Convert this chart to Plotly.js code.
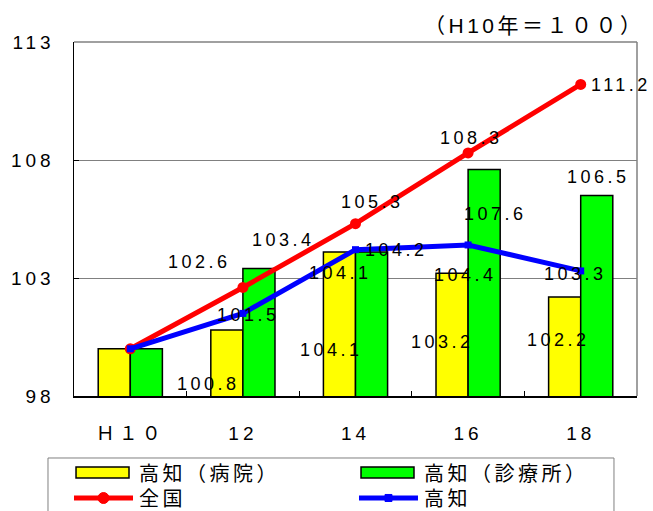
<!DOCTYPE html>
<html>
<head>
<meta charset="utf-8">
<script src="https://cdn.plot.ly/plotly-3.0.1.min.js"></script>
<style>
  html, body { margin: 0; padding: 0; background: #fff; }
  #chart { width: 653px; height: 511px; }
  text.annotation-text { letter-spacing: 3.5px; }
  .xtick text, .ytick text { letter-spacing: 4px; }
</style>
</head>
<body>
<div id="chart"></div>
<script>
// ---- data ----
const categories = ['Ｈ１０', '12', '14', '16', '18'];
const hospital = [100, 100.8, 104.1, 103.2, 102.2];      // 高知（病院）
const clinic = [100, 103.4, 104.1, 107.6, 106.5];        // 高知（診療所）
const national = [100, 102.6, 105.3, 108.3, 111.2];      // 全国
const kochi = [100, 101.5, 104.2, 104.4, 103.3];         // 高知
const seriesNames = ['高知（病院）', '高知（診療所）', '全国', '高知'];
const yTicks = [98, 103, 108, 113];

// ---- label offsets (style only, px) ----
const offHospital = [null, [-34, -54], [-24, -98], [-26, -69], [-22, -43]];
const offClinic = [null, [41, 29], [-15, -21], [27, -45], [18, 18]];
const offNational = [null, [-43, 25], [17, 22], [3, 15], [40, -1]];
const offKochi = [null, [6, -2], [41, 0], [-3, -30], [-5, -3]];

const numFont = { family: 'Liberation Sans, Arial, sans-serif', size: 18, color: '#000' };
const cjkFont = 'Liberation Sans, "Noto Sans CJK JP", sans-serif';
const colors = ['#FFFF00', '#00FF00', '#FF0000', '#0000FF'];

const traces = [
  { type: 'bar', name: seriesNames[0], x: categories, y: hospital,
    marker: { color: colors[0], line: { color: '#000', width: 1.5 } } },
  { type: 'bar', name: seriesNames[1], x: categories, y: clinic,
    marker: { color: colors[1], line: { color: '#000', width: 1.5 } } },
  { type: 'scatter', mode: 'lines+markers', name: seriesNames[2], x: categories, y: national,
    line: { color: colors[2], width: 5 }, marker: { color: colors[2], size: 11, symbol: 'circle' } },
  { type: 'scatter', mode: 'lines+markers', name: seriesNames[3], x: categories, y: kochi,
    line: { color: colors[3], width: 5 }, marker: { color: colors[3], size: 7, symbol: 'square' } }
];

const annotations = [];
function addLabels(vals, offs) {
  vals.forEach((v, i) => {
    if (!offs[i]) return;
    annotations.push({ x: i, y: v, xref: 'x', yref: 'y', text: v.toFixed(1),
      showarrow: false, xshift: offs[i][0], yshift: offs[i][1], font: numFont });
  });
}
addLabels(hospital, offHospital);
addLabels(clinic, offClinic);
addLabels(national, offNational);
addLabels(kochi, offKochi);
annotations.push({ xref: 'paper', yref: 'paper', x: 1, y: 1, xanchor: 'right', yanchor: 'bottom',
  xshift: 10, yshift: 3, showarrow: false, text: '（H10年＝１００）',
  font: { family: cjkFont, size: 21, color: '#000' } });

// ---- legend (drawn in paper coordinates so it can run off the bottom like the original) ----
const legendFont = { family: '"Noto Sans CJK JP", sans-serif', size: 20, color: '#000' };
const legTextX = [0.1119, 0.6181, 0.1119, 0.6181];
const legRowY = [-0.2147, -0.2147, -0.2881, -0.2881];
seriesNames.forEach((n, k) => {
  annotations.push({ xref: 'paper', yref: 'paper', x: legTextX[k], y: legRowY[k],
    xanchor: 'left', yanchor: 'middle', showarrow: false, text: n, font: legendFont });
});

const shapes = [
  { type: 'line', xref: 'paper', yref: 'paper', x0: 0, x1: 1, y0: 1, y1: 1, line: { color: '#808080', width: 1.5 } },
  { type: 'line', xref: 'paper', yref: 'paper', x0: 1, x1: 1, y0: 0, y1: 1, line: { color: '#808080', width: 1.5 } },
  // legend frame
  { type: 'rect', xref: 'paper', yref: 'paper', x0: -0.0462, x1: 0.9591, y0: -0.1751, y1: -0.3785,
    line: { color: '#808080', width: 1 }, fillcolor: 'rgba(0,0,0,0)' },
  // bar keys
  { type: 'rect', xref: 'paper', yref: 'paper', x0: 0.0036, x1: 0.0977, y0: -0.2006, y1: -0.2316,
    line: { color: '#000', width: 1.5 }, fillcolor: colors[0] },
  { type: 'rect', xref: 'paper', yref: 'paper', x0: 0.5098, x1: 0.6039, y0: -0.2006, y1: -0.2316,
    line: { color: '#000', width: 1.5 }, fillcolor: colors[1] },
  // line keys
  { type: 'line', xref: 'paper', yref: 'paper', x0: 0, x1: 0.1048, y0: -0.2881, y1: -0.2881,
    line: { color: colors[2], width: 5 } },
  { type: 'circle', xref: 'paper', yref: 'paper', x0: 0.0426, x1: 0.0622, y0: -0.2726, y1: -0.3037,
    line: { color: colors[2], width: 1 }, fillcolor: colors[2] },
  { type: 'line', xref: 'paper', yref: 'paper', x0: 0.5062, x1: 0.6110, y0: -0.2881, y1: -0.2881,
    line: { color: colors[3], width: 5 } },
  { type: 'rect', xref: 'paper', yref: 'paper', x0: 0.5524, x1: 0.5648, y0: -0.2782, y1: -0.2980,
    line: { color: colors[3], width: 1 }, fillcolor: colors[3] }
];

const layout = {
  width: 653, height: 511,
  margin: { l: 74, r: 16, t: 42, b: 115 },
  paper_bgcolor: '#fff', plot_bgcolor: '#fff',
  barmode: 'group', bargap: 0.43, bargroupgap: 0,
  showlegend: false,
  xaxis: {
    type: 'category', range: [-0.5, 4.5], autorange: false, tickangle: 0,
    showline: true, linecolor: '#000', linewidth: 1.5,
    ticks: 'inside', tickson: 'boundaries', ticklen: 5, tickcolor: '#000',
    showgrid: false, mirror: false,
    tickfont: { family: cjkFont, size: 19, color: '#000' },
    ticklabelstandoff: 20
  },
  yaxis: {
    range: [98, 113], autorange: false, tickvals: yTicks, ticktext: yTicks.map(String),
    showline: true, linecolor: '#000', linewidth: 1.5,
    ticks: 'inside', ticklen: 5, tickcolor: '#000',
    showgrid: true, gridcolor: '#808080', gridwidth: 1, zeroline: false,
    tickfont: { family: 'Liberation Sans, Arial, sans-serif', size: 19, color: '#000' },
    ticklabelstandoff: 14
  },
  shapes: shapes,
  annotations: annotations
};

Plotly.newPlot('chart', traces, layout, { displayModeBar: false, staticPlot: true });
</script>
</body>
</html>
